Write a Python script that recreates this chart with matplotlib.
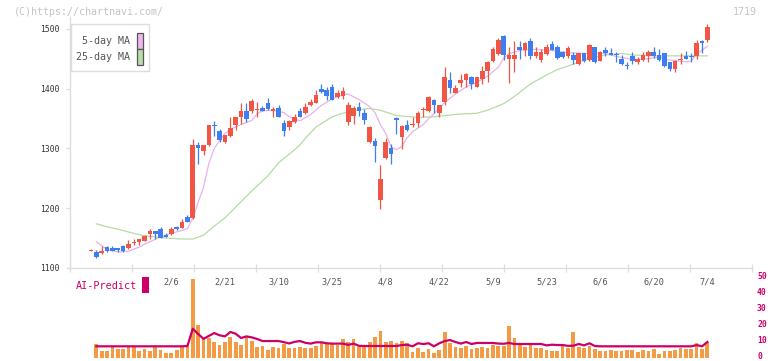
import numpy as np
import matplotlib
matplotlib.use("Agg")
import matplotlib.pyplot as plt
from matplotlib.patches import Rectangle
from matplotlib.transforms import blended_transform_factory

W, H = 772, 361

# daily candles, first entry is the volume-less doji before the volume series starts
opens = [1129, 1126, 1125, 1135, 1134, 1133, 1136, 1133, 1141, 1144, 1146, 1157, 1162, 1165, 1155, 1157,
         1169, 1167, 1186, 1183, 1306, 1296, 1305, 1340, 1329, 1310, 1321, 1340, 1353, 1363, 1362, 1365,
         1368, 1376, 1363, 1368, 1343, 1336, 1345, 1363, 1360, 1372, 1376, 1400, 1398, 1403, 1386, 1388,
         1345, 1354, 1369, 1359, 1310, 1313, 1214, 1284, 1301, 1351, 1320, 1339, 1340, 1342, 1364, 1362,
         1381, 1359, 1377, 1415, 1393, 1410, 1414, 1420, 1403, 1417, 1430, 1447, 1458, 1488, 1449, 1450,
         1469, 1465, 1480, 1455, 1448, 1458, 1475, 1469, 1461, 1454, 1456, 1441, 1459, 1448, 1469, 1447,
         1465, 1460, 1458, 1450, 1440, 1454, 1444, 1448, 1455, 1461, 1456, 1459, 1444, 1433, 1448, 1455,
         1454, 1454, 1480, 1481]
highs = [1131, 1130, 1136, 1137, 1137, 1134, 1138, 1147, 1148, 1149, 1155, 1166, 1162, 1169, 1158, 1168,
         1171, 1182, 1189, 1316, 1310, 1306, 1340, 1346, 1333, 1323, 1353, 1353, 1376, 1376, 1382, 1377,
         1371, 1385, 1369, 1372, 1348, 1348, 1358, 1367, 1376, 1383, 1398, 1408, 1403, 1408, 1398, 1403,
         1377, 1371, 1378, 1366, 1337, 1318, 1273, 1318, 1308, 1352, 1339, 1348, 1352, 1363, 1369, 1388,
         1383, 1373, 1437, 1428, 1406, 1425, 1426, 1421, 1420, 1438, 1446, 1469, 1485, 1490, 1470, 1480,
         1480, 1478, 1485, 1469, 1466, 1475, 1480, 1473, 1463, 1471, 1461, 1460, 1460, 1475, 1470, 1463,
         1470, 1468, 1462, 1457, 1444, 1461, 1453, 1461, 1465, 1470, 1466, 1460, 1445, 1448, 1460, 1463,
         1460, 1482, 1481, 1508]
lows = [1129, 1117, 1124, 1127, 1128, 1127, 1127, 1132, 1139, 1138, 1145, 1149, 1149, 1151, 1152, 1155,
        1164, 1167, 1177, 1182, 1274, 1289, 1304, 1321, 1310, 1309, 1320, 1331, 1341, 1344, 1360, 1353,
        1362, 1365, 1353, 1353, 1321, 1331, 1342, 1352, 1358, 1371, 1376, 1392, 1381, 1381, 1384, 1383,
        1339, 1341, 1354, 1341, 1309, 1278, 1199, 1282, 1274, 1325, 1299, 1330, 1336, 1336, 1352, 1361,
        1360, 1353, 1372, 1393, 1393, 1403, 1403, 1400, 1403, 1408, 1412, 1445, 1456, 1448, 1409, 1428,
        1450, 1454, 1449, 1452, 1444, 1457, 1464, 1450, 1451, 1452, 1441, 1440, 1444, 1447, 1443, 1446,
        1454, 1456, 1444, 1440, 1433, 1442, 1441, 1447, 1444, 1452, 1447, 1437, 1430, 1428, 1441, 1449,
        1444, 1450, 1460, 1479]
closes = [1130, 1119, 1129, 1128, 1129, 1130, 1129, 1140, 1144, 1148, 1154, 1162, 1157, 1151, 1152, 1166,
          1166, 1177, 1177, 1306, 1300, 1305, 1339, 1338, 1314, 1322, 1335, 1352, 1363, 1349, 1380, 1366,
          1363, 1366, 1366, 1353, 1330, 1346, 1352, 1353, 1369, 1378, 1390, 1395, 1387, 1381, 1393, 1396,
          1373, 1367, 1363, 1347, 1336, 1304, 1249, 1311, 1291, 1347, 1338, 1331, 1341, 1359, 1365, 1386,
          1372, 1372, 1420, 1402, 1401, 1415, 1425, 1408, 1419, 1430, 1445, 1467, 1482, 1456, 1456, 1457,
          1465, 1477, 1454, 1461, 1461, 1469, 1465, 1452, 1453, 1468, 1448, 1459, 1447, 1473, 1444, 1462,
          1460, 1457, 1456, 1441, 1438, 1447, 1449, 1457, 1462, 1454, 1448, 1438, 1433, 1447, 1449, 1450,
          1453, 1477, 1476, 1503]

volume = [8.75, 4.6, 4.6, 6.7, 5.6, 5.6, 6.7, 6.7, 4.6, 5.6, 4.6, 6.7, 5.0, 3.1, 3.1, 5.0, 6.7, 7.7,
          49.4, 20.6, 12.3, 12.5, 10.0, 8.1, 10.0, 13.1, 10.0, 8.1, 13.1, 10.6, 7.1, 7.7, 5.2, 7.1, 6.5,
          8.5, 6.5, 6.2, 7.1, 6.5, 6.5, 7.7, 9.2, 9.2, 9.2, 8.1, 11.9, 10.0, 11.9, 7.1, 7.1, 10.0, 13.1,
          16.9, 10.0, 10.6, 9.4, 10.6, 9.2, 3.75, 6.25, 3.75, 5.6, 3.1, 5.0, 16.25, 9.4, 6.9, 6.25, 7.5,
          5.6, 6.25, 6.9, 6.25, 8.1, 7.5, 7.5, 20.0, 12.5, 8.75, 6.9, 8.1, 6.25, 6.25, 5.0, 4.4, 4.4, 7.5,
          6.25, 16.25, 6.9, 6.25, 7.5, 5.6, 4.4, 4.4, 5.0, 4.4, 4.4, 5.0, 5.0, 3.75, 5.0, 4.4, 5.6, 2.5,
          4.4, 4.4, 5.0, 6.25, 5.6, 5.6, 9.4, 5.6, 10.0]

ai_predict = [7.3] * 17 + [7.5, 18.3, 15.0, 12.0, 13.8, 15.6, 14.2, 13.5, 16.3, 15.2, 12.5, 13.5, 12.9,
              11.9, 10.6, 10.6, 10.6, 10.6, 9.9, 9.1, 10.1, 10.6, 9.5, 9.0, 9.8, 9.8, 9.2, 9.0, 9.0,
              9.0, 8.2, 9.0, 7.6, 7.5, 7.5, 7.5, 7.5, 7.5, 7.5, 7.5, 8.1, 8.3, 7.3, 9.2, 8.75, 9.2, 7.3,
              9.2, 10.6, 11.2, 10.0, 9.0, 10.0, 8.75, 9.4, 9.4, 9.4, 9.4, 9.0, 8.9, 9.4, 8.75, 8.75,
              8.75, 8.75, 8.75, 8.75, 7.9, 8.3, 8.1, 8.1, 7.6, 7.7, 8.75, 7.9, 9.2, 7.5] + [7.3] * 18 + [8.1, 7.3, 10.0]

ma5_day = [0, 2, 4, 6, 8, 10, 12, 14, 16, 17, 18, 19, 20, 21, 22, 23, 24, 25, 27, 29, 30, 31, 33, 35, 36,
           38, 40, 42, 44, 46, 47, 49, 51, 52, 53, 54, 55, 56, 57, 58, 59, 61, 62, 63, 65, 67, 69, 71, 73,
           75, 76, 77, 79, 82, 85, 88, 91, 95, 97, 100, 102, 105, 107, 110, 111, 112, 114]
ma5 = [1144, 1131, 1127, 1128, 1135, 1144, 1152, 1158, 1163, 1166, 1183, 1210, 1235, 1275, 1300, 1313,
       1325, 1332, 1340, 1347, 1358, 1363, 1364, 1360, 1353, 1346, 1357, 1372, 1383, 1390, 1391, 1382,
       1370, 1360, 1340, 1325, 1303, 1298, 1303, 1318, 1328, 1340, 1350, 1358, 1377, 1391, 1403, 1411,
       1421, 1436, 1451, 1459, 1464, 1466, 1464, 1460, 1459, 1459, 1454, 1449, 1449, 1453, 1448, 1445,
       1446, 1458, 1471]

ma25_day = [0, 2, 4, 7, 9, 12, 14, 16, 18, 20, 22, 24, 27, 29, 32, 34, 37, 38, 39, 41, 44, 46, 49, 51, 53,
            56, 60, 63, 67, 71, 73, 76, 78, 81, 84, 86, 89, 92, 95, 98, 100, 104, 108, 114]
ma25 = [1174, 1169, 1165, 1158, 1154, 1151, 1149.5, 1148.5, 1148.5, 1155, 1170, 1184, 1211, 1229, 1254,
        1276, 1298, 1306, 1317, 1336, 1353, 1359, 1365, 1367, 1364, 1355, 1352, 1353, 1357, 1359, 1364,
        1375, 1387, 1408, 1423, 1432, 1441, 1451, 1456.5, 1459, 1456.5, 1455, 1455, 1455]

date_labels = ["2/6", "2/21", "3/10", "3/25", "4/8", "4/22", "5/9", "5/23", "6/6", "6/20", "7/4"]
date_days = [14, 24, 34, 44, 54, 64, 74, 84, 94, 104, 114]

price_ticks = [1100, 1200, 1300, 1400, 1500]
predict_ticks = [0, 10, 20, 30, 40, 50]

RED = "#f05545"
BLUE = "#3f7ef0"
MONO = "DejaVu Sans Mono"

# pixel -> candle index mapping of the original chart
x0, step = 96.3, 5.36
xlim = ((70 - x0) / step, (752 - x0) / step)

fig = plt.figure(figsize=(W / 100, H / 100), dpi=100)
ax = fig.add_axes([70 / W, 1 - 268 / H, 682 / W, 251 / H])
ax.set_xlim(*xlim)
ax.set_ylim(1100, 1520)

days = np.arange(-1, len(opens) - 1)
o, h, l, c = map(np.array, (opens, highs, lows, closes))
colors = np.where(c >= o, RED, BLUE)

ax.plot(ma25_day, ma25, color="#b4dca4", lw=0.9, zorder=1)
ax.plot(ma5_day, ma5, color="#e8b2ea", lw=0.9, zorder=1)

ax.vlines(days, l, h, colors=colors, lw=0.9, zorder=2)
body = np.maximum(np.abs(c - o), 1.6)
ax.bar(days, body, bottom=np.minimum(o, c), width=0.86, color=colors, zorder=3)

for s in ["top", "right"]:
    ax.spines[s].set_visible(False)
for s in ["left", "bottom"]:
    ax.spines[s].set_color("#dddddd")
    ax.spines[s].set_linewidth(1.0)

ax.set_xticks([xlim[0] + k * 62 / step for k in range(12)])
ax.tick_params(axis="x", direction="inout", length=6, width=0.9, color="#dddddd", labelbottom=False)
ax.set_yticks(price_ticks)
ax.tick_params(axis="y", direction="out", length=3.2, width=0.9, color="#dddddd",
               labelsize=5.8, labelcolor="#333333", pad=4)
for t in ax.get_yticklabels():
    t.set_family(MONO)

tr = blended_transform_factory(ax.transData, ax.transAxes)
for d, lab in zip(date_days, date_labels):
    ax.text(d, -14 / 251, lab, transform=tr, ha="center", va="center", fontsize=6.2,
            color="#555555", family=MONO, clip_on=False)

# volume + AI-Predict panel
ax2 = fig.add_axes([70 / W, 1 - 358 / H, 682 / W, 80 / H])
ax2.patch.set_visible(False)
ax2.set_xlim(*xlim)
ax2.set_ylim(0, 50)
vdays = np.arange(len(volume))
ax2.bar(vdays, volume, width=0.7, color="#f39a45", zorder=1)
ax2.plot(vdays, ai_predict, color="#cc0066", lw=1.6, zorder=2)
for s in ax2.spines.values():
    s.set_visible(False)
ax2.set_xticks([])
ax2.set_yticks([])

def fx(px):
    return px / W

def fy(py):
    return 1 - py / H

# right-hand scale of the lower panel, nudged up a little so "0" stays inside
for v in predict_ticks:
    fig.text(fx(757), fy(358 - 1.6 * v - 1.5), str(v), fontsize=5.8, color="#cc0066",
             family=MONO, fontweight="bold", ha="left", va="center")

fig.text(fx(76), fy(286), "AI-Predict", fontsize=7.3, color="#cc0066", family=MONO,
         ha="left", va="center")
fig.add_artist(Rectangle((fx(142), fy(292.5)), 7 / W, 15.5 / H, transform=fig.transFigure,
                         facecolor="#cc0066", edgecolor="none"))

# legend box
fig.add_artist(Rectangle((fx(70.5), fy(71.3)), 78 / W, 47.3 / H, transform=fig.transFigure,
                         facecolor="white", edgecolor="#dddddd", lw=1.0, zorder=5))
for yy, lab, col in [(41, "5-day MA", "#ecb8ee"), (57, "25-day MA", "#b8dcaa")]:
    fig.text(fx(130), fy(yy), lab, fontsize=7.2, color="#555555", family=MONO,
             ha="right", va="center", zorder=6)
    fig.add_artist(Rectangle((fx(136.5), fy(yy + 7.5)), 6 / W, 15 / H, transform=fig.transFigure,
                             facecolor=col, edgecolor="#555555", lw=0.9, zorder=6))

fig.text(fx(14), fy(12), "(C)https://chartnavi.com/", fontsize=7.2, color="#c4c4c4",
         family=MONO, ha="left", va="center")
fig.text(fx(757), fy(12), "1719", fontsize=7.2, color="#c4c4c4", family=MONO,
         ha="right", va="center")

fig.savefig("out.png", dpi=100)
